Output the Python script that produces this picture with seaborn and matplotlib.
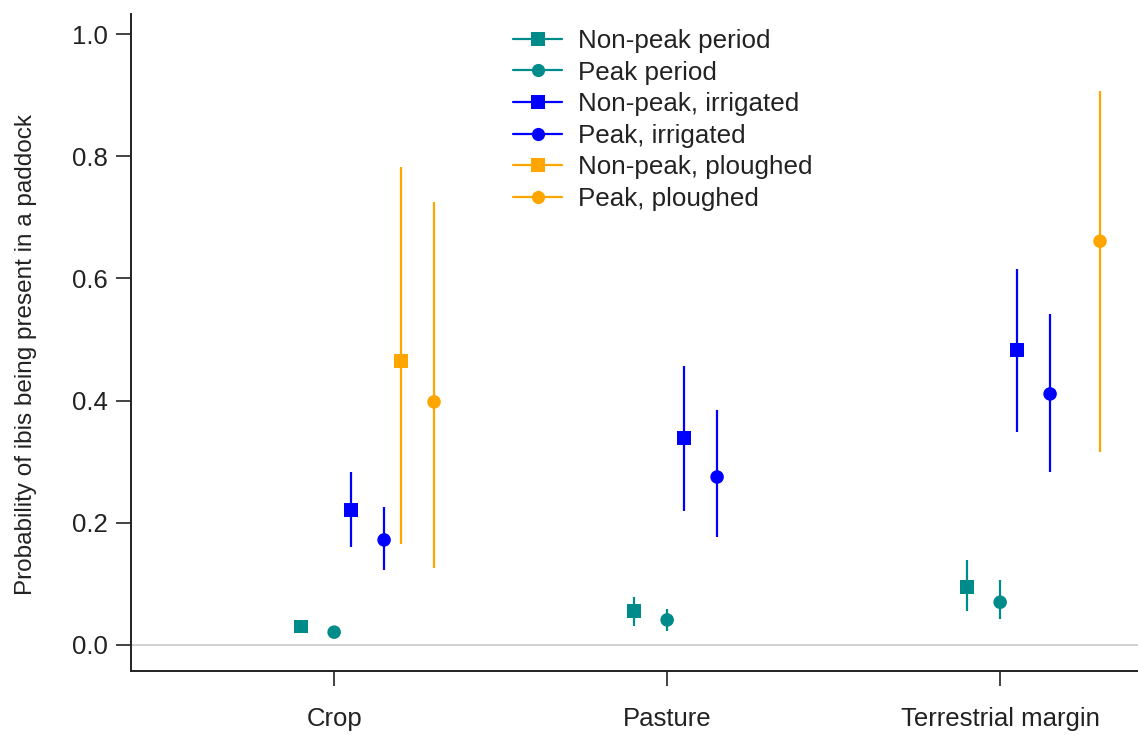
import numpy as np
import pandas as pd
import matplotlib
matplotlib.use("Agg")
import matplotlib.pyplot as plt
from matplotlib.lines import Line2D
import seaborn as sns

# Habitat categories on the x axis
categories = ["Crop", "Pasture", "Terrestrial margin"]

# Series (period x treatment)
series = ["Non-peak period", "Peak period", "Non-peak, irrigated",
          "Peak, irrigated", "Non-peak, ploughed", "Peak, ploughed"]

# Estimated probabilities per habitat (NaN = not estimated)
nonpeak_est = [0.030, 0.056, 0.095]
nonpeak_lo = [0.026, 0.031, 0.056]
nonpeak_hi = [0.034, 0.079, 0.139]

peak_est = [0.021, 0.041, 0.070]
peak_lo = [0.018, 0.023, 0.043]
peak_hi = [0.025, 0.059, 0.106]

nonpeak_irr_est = [0.221, 0.339, 0.483]
nonpeak_irr_lo = [0.160, 0.219, 0.349]
nonpeak_irr_hi = [0.283, 0.457, 0.615]

peak_irr_est = [0.172, 0.275, 0.411]
peak_irr_lo = [0.123, 0.177, 0.283]
peak_irr_hi = [0.226, 0.385, 0.542]

nonpeak_pl_est = [0.465, np.nan, np.nan]
nonpeak_pl_lo = [0.165, np.nan, np.nan]
nonpeak_pl_hi = [0.782, np.nan, np.nan]

peak_pl_est = [0.398, np.nan, 0.661]
peak_pl_lo = [0.126, np.nan, 0.316]
peak_pl_hi = [0.725, np.nan, 0.907]

estimates = [nonpeak_est, peak_est, nonpeak_irr_est, peak_irr_est, nonpeak_pl_est, peak_pl_est]
lowers = [nonpeak_lo, peak_lo, nonpeak_irr_lo, peak_irr_lo, nonpeak_pl_lo, peak_pl_lo]
uppers = [nonpeak_hi, peak_hi, nonpeak_irr_hi, peak_irr_hi, nonpeak_pl_hi, peak_pl_hi]

# Styling per series
teal, blue, orange = "#008B8B", "#0000FF", "#FFA500"
colors = [teal, teal, blue, blue, orange, orange]
markers = ["s", "o", "s", "o", "s", "o"]
offsets = [-0.10, 0.0, 0.05, 0.15, 0.20, 0.30]

rows = []
for s, est, lo, hi, off in zip(series, estimates, lowers, uppers, offsets):
    for i, c in enumerate(categories):
        rows.append(dict(series=s, habitat=c, x=i + off, est=est[i], lo=lo[i], hi=hi[i]))
df = pd.DataFrame(rows).dropna()

sns.set_style("ticks")
plt.rcParams["font.family"] = ["Liberation Sans", "DejaVu Sans"]

fig = plt.figure(figsize=(11.38, 7.35), dpi=100)
ax = fig.add_axes([131 / 1138, 1 - 671 / 735, 1 - 131 / 1138, (671 - 14) / 735])

ax.axhline(0, color="#c8c8c8", lw=1.2, zorder=0)

palette = dict(zip(series, colors))
marker_map = dict(zip(series, markers))

for s in series:
    d = df[df["series"] == s]
    if d.empty:
        continue
    ax.vlines(d["x"], d["lo"], d["hi"], color=palette[s], lw=1.6, zorder=2)

sns.scatterplot(data=df, x="x", y="est", hue="series", style="series",
                palette=palette, markers=marker_map, hue_order=series,
                style_order=series, s=95, edgecolor="none", legend=False,
                ax=ax, zorder=3)

ax.set_xlim(-0.61, 2.414)
ax.set_ylim(-0.0426, 1.033)
ax.set_xticks(range(len(categories)))
ax.set_xticklabels(categories)
ax.set_yticks([0.0, 0.2, 0.4, 0.6, 0.8, 1.0])
ax.set_yticklabels(["0.0", "0.2", "0.4", "0.6", "0.8", "1.0"])
ax.tick_params(axis="both", labelsize=18.5, length=11, width=1.2, colors="#222222")
ax.tick_params(axis="x", pad=15)
ax.tick_params(axis="y", pad=6)
ax.set_xlabel("")
ax.set_ylabel("Probability of ibis being present in a paddock", fontsize=17.5,
              labelpad=25, color="#222222", y=0.481)

sns.despine(ax=ax, top=True, right=True)
for sp in ["left", "bottom"]:
    ax.spines[sp].set_color("#222222")
    ax.spines[sp].set_linewidth(1.4)

handles = [Line2D([0], [0], color=c, marker=m, markersize=9.5, lw=1.6, markeredgewidth=0)
           for c, m in zip(colors, markers)]
leg = fig.legend(handles, series, loc="upper left", bbox_to_anchor=(513 / 1138, 1 - 29 / 735),
                 frameon=False, fontsize=18.7, handlelength=1.9, handletextpad=0.62,
                 labelspacing=0.29, borderaxespad=0, borderpad=0)
for t in leg.get_texts():
    t.set_color("#222222")

fig.savefig("out.png", dpi=100)
